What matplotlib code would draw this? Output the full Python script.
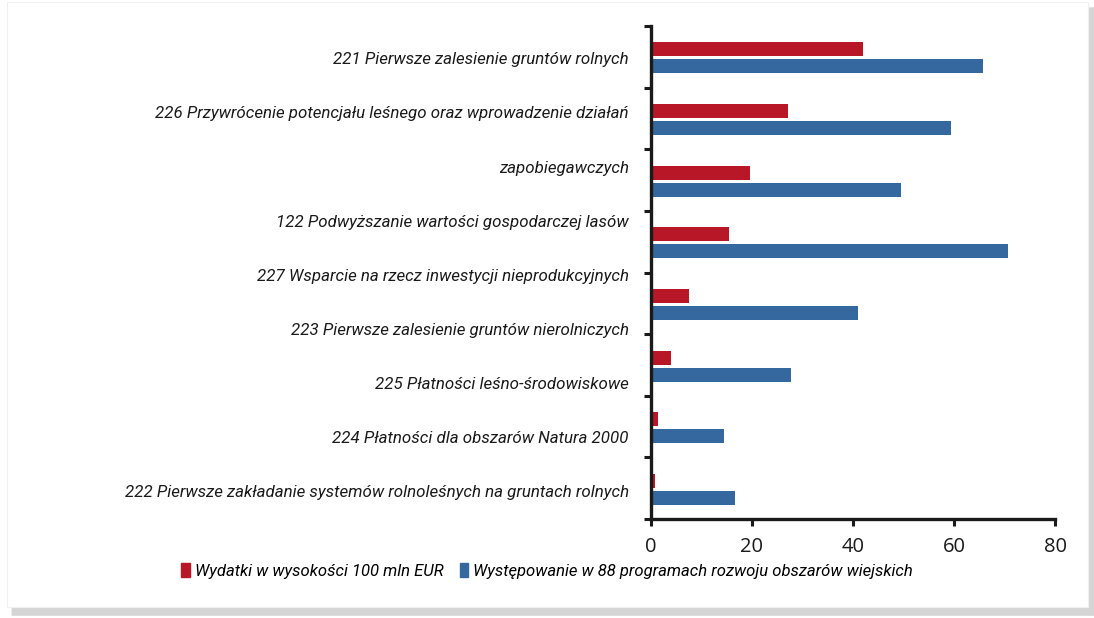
import matplotlib
matplotlib.use('Agg')
import matplotlib.pyplot as plt
from matplotlib.patches import Rectangle
import numpy as np

# category labels as they are laid out in the original (9 text lines over 8 bar groups)
label_lines = ['221 Pierwsze zalesienie gruntów rolnych',
               '226 Przywrócenie potencjału leśnego oraz wprowadzenie działań',
               'zapobiegawczych',
               '122 Podwyższanie wartości gospodarczej lasów',
               '227 Wsparcie na rzecz inwestycji nieprodukcyjnych',
               '223 Pierwsze zalesienie gruntów nierolniczych',
               '225 Płatności leśno-środowiskowe',
               '224 Płatności dla obszarów Natura 2000',
               '222 Pierwsze zakładanie systemów rolnoleśnych na gruntach rolnych']

# series values, top group first
wydatki = [42.0, 27.1, 19.6, 15.5, 7.6, 4.0, 1.4, 0.9]
wystepowanie = [65.7, 59.4, 49.4, 70.6, 40.9, 27.7, 14.5, 16.6]

legend_labels = ['Wydatki w wysokości 100 mln EUR',
                 'Występowanie w 88 programach rozwoju obszarów wiejskich']
x_ticks = [0, 20, 40, 60, 80]

red = '#B71727'
blue = '#34689E'
lab_font = ['Roboto', 'DejaVu Sans']

fig = plt.figure(figsize=(10.94, 6.18), dpi=100)
fig.patch.set_facecolor('white')

# soft drop shadow + white panel
for i, a in enumerate([0.06, 0.08, 0.10, 0.12]):
    d = (4 - i) * 0.002
    fig.patches.append(Rectangle((0.012 - d * 0.3, 0.002 + d * 0.3), 0.9881 + d * 0.3,
                                 0.985, transform=fig.transFigure,
                                 facecolor='#808080', alpha=a, edgecolor='none', zorder=-3))
fig.patches.append(Rectangle((0.0064, 0.0178), 0.9945 - 0.0064, 0.9968 - 0.0178,
                             transform=fig.transFigure, facecolor='white',
                             edgecolor='#f0f0f0', lw=0.8, zorder=-2))

ax = fig.add_axes([0.595, 0.160, 0.3695, 0.798])
ax.patch.set_alpha(0)

pos = np.arange(len(wydatki))
h = 0.227
ax.barh(pos - 0.12, wydatki, height=h, color=red, zorder=2)
ax.barh(pos + 0.155, wystepowanie, height=h, color=blue, zorder=2)

ax.set_xlim(0, 80)
ax.set_ylim(len(wydatki) - 0.5, -0.5)
ax.set_xticks(x_ticks)
ax.set_xticklabels([str(t) for t in x_ticks], fontsize=14.5, family=['Open Sans', 'DejaVu Sans'],
                   color='#1a1a1a')
ax.set_yticks(np.arange(len(wydatki) + 1) - 0.5)
ax.set_yticklabels([])
ax.tick_params(axis='both', direction='out', length=5, width=2.2, color='#1a1a1a')
ax.tick_params(axis='x', pad=8)

for s in ['top', 'right']:
    ax.spines[s].set_visible(False)
for s in ['left', 'bottom']:
    ax.spines[s].set_linewidth(2.4)
    ax.spines[s].set_color('#1a1a1a')
    ax.spines[s].set_zorder(3)

# label lines spread evenly over the groups like the source
for i, txt in enumerate(label_lines):
    ax.text(-0.055, 0.05 + 0.878 * i, txt, transform=ax.get_yaxis_transform(),
            ha='right', va='center', fontsize=12.2, style='italic', family=lab_font,
            color='#1a1a1a')

handles = [Rectangle((0, 0), 1, 1, color=red), Rectangle((0, 0), 1, 1, color=blue)]
fig.legend(handles, legend_labels, loc='center left', bbox_to_anchor=(0.152, 0.076), ncol=2,
           frameon=False, handlelength=0.5, handleheight=0.85, handletextpad=0.3,
           columnspacing=1.0, prop={'family': lab_font, 'style': 'italic', 'size': 12})

fig.savefig('out.png', dpi=100)
